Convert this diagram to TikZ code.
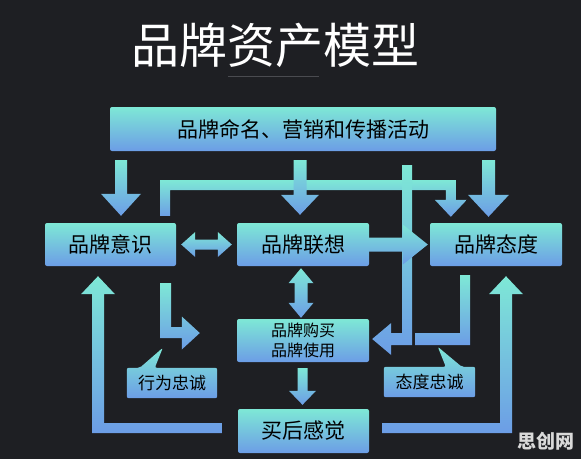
\documentclass[tikz,border=0pt]{standalone}
\usepackage{fontspec}
\setmainfont{Noto Sans CJK SC}
\usetikzlibrary{calc,backgrounds}

\definecolor{bgdark}{HTML}{1E1F23}
\definecolor{boxtop}{HTML}{7EE8D6}
\definecolor{boxbot}{HTML}{6C9DE6}
\definecolor{rulegray}{HTML}{4A4B50}
\definecolor{markgray}{HTML}{D9D9D9}

\tikzset{
  brand/.style={rectangle, rounded corners=2pt, top color=boxtop, bottom color=boxbot,
    text=black, inner sep=0pt, minimum width=132pt, minimum height=43pt,
    font=\fontsize{21}{24}\selectfont},
  loyal/.style={rectangle, inner sep=0pt, minimum width=90pt, minimum height=30pt,
    text=black, font=\fontsize{17}{20}\selectfont},
  flow/.style={top color=boxtop, bottom color=boxbot},
}

% block arrows (shaft half width, head half width, head length, from, tip)
\newcommand{\downflow}[5]{%
  \path[flow] let \p1=#4, \p2=#5 in
    (\x2-#1pt,\y1) -- (\x2+#1pt,\y1) -- (\x2+#1pt,\y2+#3pt) -- (\x2+#2pt,\y2+#3pt)
    -- (\x2,\y2) -- (\x2-#2pt,\y2+#3pt) -- (\x2-#1pt,\y2+#3pt) -- cycle;}
\newcommand{\hbothflow}[2]{%
  \path[flow] let \p1=#1, \p2=#2 in
    (\x1,\y1) -- (\x1+14pt,\y1+12.5pt) -- (\x1+14pt,\y1+5pt) -- (\x2-14pt,\y1+5pt)
    -- (\x2-14pt,\y1+12.5pt) -- (\x2,\y1) -- (\x2-14pt,\y1-12.5pt) -- (\x2-14pt,\y1-5pt)
    -- (\x1+14pt,\y1-5pt) -- (\x1+14pt,\y1-12.5pt) -- cycle;}
\newcommand{\vbothflow}[2]{%
  \path[flow] let \p1=#1, \p2=#2 in
    (\x1,\y1) -- (\x1+12.5pt,\y1-15pt) -- (\x1+6.5pt,\y1-15pt) -- (\x1+6.5pt,\y2+15pt)
    -- (\x1+12.5pt,\y2+15pt) -- (\x1,\y2) -- (\x1-12.5pt,\y2+15pt) -- (\x1-6.5pt,\y2+15pt)
    -- (\x1-6.5pt,\y1-15pt) -- (\x1-12.5pt,\y1-15pt) -- cycle;}

\begin{document}
\begin{tikzpicture}[x=1pt,y=-1pt]
\useasboundingbox (0,0) rectangle (581,459);
\begin{scope}[on background layer]
\fill[bgdark] (0,0) rectangle (581,459);
\end{scope}

\node[text=white, inner sep=0pt, font=\fontsize{48}{52}\selectfont] (title) at (275,45) {品牌资产模型};
\draw[rulegray, line width=1pt] (228,76) -- (319,76);

\node[brand, minimum width=386pt, minimum height=44pt] (media) at (303,129) {品牌命名、营销和传播活动};
\node[brand, minimum width=131pt] (aware) at (110.5,244.5) {品牌意识};
\node[brand] (assoc) at (303,244.5) {品牌联想};
\node[brand] (attit) at (496,244.5) {品牌态度};
\node[brand, align=center, font=\fontsize{16}{20}\selectfont] (buy) at (303,340.5) {品牌购买\\品牌使用};
\node[brand, minimum width=131pt, minimum height=44pt] (feel) at (303.5,431) {买后感觉};
\node[loyal] (behav) at (172,383) {行为忠诚};
\node[loyal, minimum width=91pt] (attloy) at (429.5,382) {态度忠诚};

% callouts
\begin{scope}[on background layer]
\path[flow, rounded corners=2pt] (behav.north west) -- ([xshift=13pt]behav.north west)
  -- ([xshift=36pt,yshift=20pt]behav.north west) -- ([xshift=28pt]behav.north west)
  -- (behav.north east) -- (behav.south east) -- (behav.south west) -- cycle;
\path[flow, rounded corners=2pt] (attloy.north west) -- ([xshift=62pt]attloy.north west)
  -- ([xshift=54pt,yshift=20pt]attloy.north west) -- ([xshift=78pt]attloy.north west)
  -- (attloy.north east) -- (attloy.south east) -- (attloy.south west) -- cycle;
\end{scope}

% media to the three boxes
\downflow{6}{20}{22}{([yshift=-9pt]media.south)}{([xshift=10.5pt,yshift=7pt]aware.north)}
\downflow{6.5}{20.5}{22}{([yshift=-9pt]media.south)}{([xshift=-7.5pt,yshift=6pt]attit.north)}

% awareness over the top to attitude
\path[flow] let \p1=([xshift=-11pt,yshift=7pt]aware.north east),
  \p2=([xshift=21pt,yshift=6pt]attit.north west), \p3=([yshift=-29pt]media.south) in
  (\x1-5pt,\y1) -- (\x1-5pt,\y3) -- (\x2+5pt,\y3) -- (\x2+5pt,\y2+17pt) -- (\x2+16pt,\y2+17pt)
  -- (\x2,\y2) -- (\x2-16pt,\y2+17pt) -- (\x2-5pt,\y2+17pt) -- (\x2-5pt,\y3-10pt)
  -- (\x1+5pt,\y3-10pt) -- (\x1+5pt,\y1) -- cycle;
\downflow{6.5}{19}{20}{([yshift=-9pt]media.south)}{([xshift=-3pt,yshift=8pt]assoc.north)}

% media down to purchase
\path[flow] let \p1=([xshift=104pt,yshift=-14pt]media.south), \p2=([xshift=3pt,yshift=1.5pt]buy.east) in
  (\x1-5pt,\y1) -- (\x1+5pt,\y1) -- (\x1+5pt,\y2-6pt) -- (\x2+19pt,\y2-6pt) -- (\x2+19pt,\y2-16pt)
  -- (\x2,\y2) -- (\x2+19pt,\y2+16pt) -- (\x2+19pt,\y2+6pt) -- (\x1-5pt,\y2+6pt) -- cycle;

% association to attitude
\path[flow] let \p1=(assoc.east), \p2=([xshift=-2pt]attit.west) in
  (\x1,\y2+7pt) -- (\x2-25pt,\y2+7pt) -- (\x2-25pt,\y2+20pt) -- (\x2,\y2) -- (\x2-25pt,\y2-20pt)
  -- (\x2-25pt,\y2-7pt) -- (\x1,\y2-7pt) -- cycle;

\hbothflow{([xshift=5pt]aware.east)}{([xshift=-5pt]assoc.west)}
\vbothflow{([xshift=-2pt,yshift=-2pt]assoc.south)}{([xshift=-2pt,yshift=1pt]buy.north)}

% awareness to behaviour
\path[flow] let \p1=([xshift=-10.5pt,yshift=-17pt]aware.south east), \p2=([xshift=-37pt,yshift=7.5pt]buy.west) in
  (\x1-5.5pt,\y1) -- (\x1+5.5pt,\y1) -- (\x1+5.5pt,\y2+6pt) -- (\x2-18pt,\y2+6pt) -- (\x2-18pt,\y2+16.5pt)
  -- (\x2,\y2) -- (\x2-18pt,\y2-16.5pt) -- (\x2-18pt,\y2-5pt) -- (\x1-5.5pt,\y2-5pt) -- cycle;

% attitude bracket
\path[flow] let \p1=([xshift=-31pt,yshift=-9pt]attit.south), \p2=([xshift=46pt,yshift=1.5pt]buy.east) in
  (\x1-5pt,\y1) -- (\x1+5pt,\y1) -- (\x1+5pt,\y2-6pt) -- (\x2,\y2-6pt) -- (\x2,\y2+6pt)
  -- (\x1-5pt,\y2+6pt) -- cycle;

\downflow{5}{13.5}{14}{([yshift=-6pt]buy.south)}{([xshift=-1pt,yshift=4pt]feel.north)}

% feedback from feeling
\path[flow] let \p1=([xshift=-16pt,yshift=3pt]feel.west), \p2=([xshift=-12.5pt,yshift=-10pt]aware.south) in
  (\x1,\y1-5pt) -- (\x2-6pt,\y1-5pt) -- (\x2-6pt,\y2-18pt) -- (\x2-17pt,\y2-18pt) -- (\x2,\y2)
  -- (\x2+17pt,\y2-18pt) -- (\x2+6pt,\y2-18pt) -- (\x2+6pt,\y1+5pt) -- (\x1,\y1+5pt) -- cycle;
\path[flow] let \p1=([xshift=13pt,yshift=3pt]feel.east), \p2=([xshift=10pt,yshift=-10pt]attit.south) in
  (\x1,\y1-5pt) -- (\x2+6pt,\y1-5pt) -- (\x2+6pt,\y2-18pt) -- (\x2+17pt,\y2-18pt) -- (\x2,\y2)
  -- (\x2-17pt,\y2-18pt) -- (\x2-6pt,\y2-18pt) -- (\x2-6pt,\y1+5pt) -- (\x1,\y1+5pt) -- cycle;

\node[text=markgray, font=\bfseries\fontsize{19}{20}\selectfont] (mark) at (546,441) {思创网};
\end{tikzpicture}
\end{document}
